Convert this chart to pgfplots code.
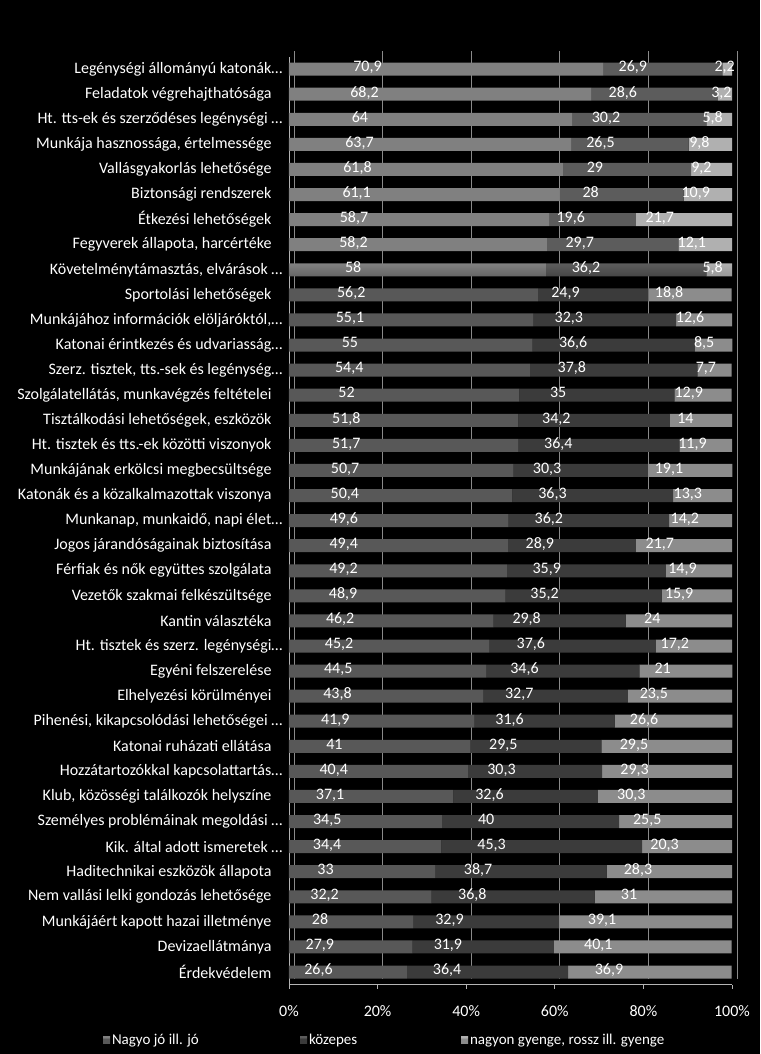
\documentclass[border=0pt]{standalone}
\usepackage{fontspec}
\setmainfont{Carlito}
\usepackage{pgfplots}
\usepackage{pgfplotstable}
\pgfplotsset{compat=1.18}

\definecolor{jo}{HTML}{585858}
\definecolor{kozepes}{HTML}{3B3B3B}
\definecolor{gyenge}{HTML}{8C8C8C}
\definecolor{jotop}{HTML}{808080}
\definecolor{kozepestop}{HTML}{5C5C5C}
\definecolor{gyengetop}{HTML}{B0B0B0}
\definecolor{gridgray}{HTML}{8A8A8A}
\definecolor{axisgray}{HTML}{B4B4B4}

% flat bars with a lighter strip along the top edge
\pgfdeclareverticalshading{barjo}{100bp}{color(0bp)=(jo); color(63bp)=(jo); color(64bp)=(jotop); color(100bp)=(jotop)}
\pgfdeclareverticalshading{barkozepes}{100bp}{color(0bp)=(kozepes); color(63bp)=(kozepes); color(64bp)=(kozepestop); color(100bp)=(kozepestop)}
\pgfdeclareverticalshading{bargyenge}{100bp}{color(0bp)=(gyenge); color(63bp)=(gyenge); color(64bp)=(gyengetop); color(100bp)=(gyengetop)}

% y = position from the bottom, rows in the order of the chart (top first)
\pgfplotstableread{
y a b c
37 70.9 26.9 2.2
36 68.2 28.6 3.2
35 64 30.2 5.8
34 63.7 26.5 9.8
33 61.8 29 9.2
32 61.1 28 10.9
31 58.7 19.6 21.7
30 58.2 29.7 12.1
29 58 36.2 5.8
28 56.2 24.9 18.8
27 55.1 32.3 12.6
26 55 36.6 8.5
25 54.4 37.8 7.7
24 52 35 12.9
23 51.8 34.2 14
22 51.7 36.4 11.9
21 50.7 30.3 19.1
20 50.4 36.3 13.3
19 49.6 36.2 14.2
18 49.4 28.9 21.7
17 49.2 35.9 14.9
16 48.9 35.2 15.9
15 46.2 29.8 24
14 45.2 37.6 17.2
13 44.5 34.6 21
12 43.8 32.7 23.5
11 41.9 31.6 26.6
10 41 29.5 29.5
9 40.4 30.3 29.3
8 37.1 32.6 30.3
7 34.5 40 25.5
6 34.4 45.3 20.3
5 33 38.7 28.3
4 32.2 36.8 31
3 28 32.9 39.1
2 27.9 31.9 40.1
1 26.6 36.4 36.9
}\adatok

\newcommand{\tr}{\kern11pt}

\pgfplotsset{
  seg/.style n args={3}{
      draw=none, shade, shading=#3,
      legend image code/.code={\fill[#1] (0pt,-3.5pt) rectangle (7pt,3.5pt);},
      nodes near coords,
      visualization depends on={\thisrow{#2} \as \val},
      % the shift ends up applied twice, hence a quarter of 4.43pt per unit
      every node near coord/.append style={
          text=white, font=\fontsize{16}{18}\selectfont,
          text height=0.68em, text depth=0.12em,
          anchor=center, xshift={-1.1075pt*\val}},
    },
}

\begin{document}
\begin{tikzpicture}[font=\fontsize{16}{18}\selectfont]
  \fill[black] (-289pt,-69.4pt) rectangle (471pt,984.6pt);
  \useasboundingbox (-289pt,-69.4pt) rectangle (471pt,984.6pt);

  \begin{axis}[
      at={(0,0)}, anchor=south west,
      scale only axis,
      width=443pt, height=928pt,
      clip=false,
      xbar stacked,
      bar width=13pt,
      xmin=0, xmax=100,
      ymin=0.5, ymax=37.5,
      enlargelimits=false,
      axis lines*=left,
      axis line style={axisgray, line width=0.8pt},
      tick align=outside,
      xtick={0,20,...,100},
      xticklabel={\pgfmathprintnumber{\tick}\%},
      xtick style={axisgray, line width=0.8pt},
      major tick length=4pt,
      xticklabel style={text=white, yshift=-13pt},
      xmajorgrids,
      major grid style={gridgray, line width=0.8pt, xshift=5pt, yshift=6pt},
      ytick={1,...,37},
      ytick style={draw=none},
      minor ytick={0.5,1.5,...,37.5},
      minor tick style={axisgray, line width=0.8pt},
      minor tick length=5pt,
      yticklabel style={text=white, xshift=1pt},
      yticklabels={
          {Érdekvédelem\tr},
          {Devizaellátmánya\tr},
          {Munkájáért kapott hazai illetménye\tr},
          {Nem vallási lelki gondozás lehetősége\tr},
          {Haditechnikai eszközök állapota\tr},
          {Kik. által adott ismeretek …},
          {Személyes problémáinak megoldási …},
          {Klub, közösségi találkozók helyszíne\tr},
          {Hozzátartozókkal kapcsolattartás…},
          {Katonai ruházati ellátása\tr},
          {Pihenési, kikapcsolódási lehetőségei …},
          {Elhelyezési körülményei\tr},
          {Egyéni felszerelése\tr},
          {Ht. tisztek és szerz. legénységi…},
          {Kantin választéka\tr},
          {Vezetők szakmai felkészültsége\tr},
          {Férfiak és nők együttes szolgálata\tr},
          {Jogos járandóságainak biztosítása\tr},
          {Munkanap, munkaidő, napi élet…},
          {Katonák és a közalkalmazottak viszonya\tr},
          {Munkájának erkölcsi megbecsültsége\tr},
          {Ht. tisztek és tts.-ek közötti viszonyok\tr},
          {Tisztálkodási lehetőségek, eszközök\tr},
          {Szolgálatellátás, munkavégzés feltételei\tr},
          {Szerz. tisztek, tts.-sek és legénység…},
          {Katonai érintkezés és udvariasság…},
          {Munkájához információk elöljáróktól,…},
          {Sportolási lehetőségek\tr},
          {Követelménytámasztás, elvárások …},
          {Fegyverek állapota, harcértéke\tr},
          {Étkezési lehetőségek\tr},
          {Biztonsági rendszerek\tr},
          {Vallásgyakorlás lehetősége\tr},
          {Munkája hasznossága, értelmessége\tr},
          {Ht. tts-ek és szerződéses legénységi …},
          {Feladatok végrehajthatósága\tr},
          {Legénységi állományú katonák…},
        },
      /pgf/number format/assume math mode=true,
      /pgf/number format/use comma,
      legend columns=3,
      legend style={
          at={(-0.427,-0.0597)}, anchor=west,
          draw=none, fill=none, text=white,
          font=\fontsize{15}{17}\selectfont,
          /tikz/every even column/.style={column sep=0pt},
        },
    ]

    \addplot[seg={jo}{a}{barjo}] table[x=a, y=y, meta=a, point meta=explicit] {\adatok};
    \addlegendentry{\makebox[186pt][l]{Nagyo jó ill. jó}}
    \addplot[seg={kozepes}{b}{barkozepes}] table[x=b, y=y, meta=b, point meta=explicit] {\adatok};
    \addlegendentry{\makebox[150pt][l]{közepes}}
    \addplot[seg={gyenge}{c}{bargyenge}] table[x=c, y=y, meta=c, point meta=explicit] {\adatok};
    \addlegendentry{nagyon gyenge, rossz ill. gyenge}

  \end{axis}
\end{tikzpicture}
\end{document}
